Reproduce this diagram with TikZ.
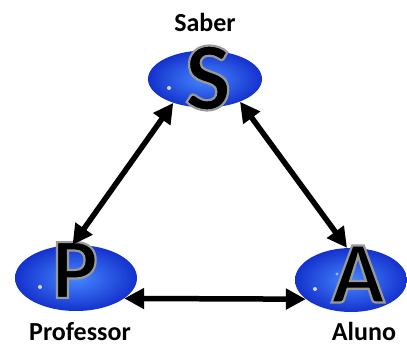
\documentclass[tikz,border=0pt]{standalone}
\usepackage{fontspec}
\setmainfont{Carlito}
\usetikzlibrary{shapes.geometric,arrows.meta}
\definecolor{bluedark}{RGB}{20,50,205}
\definecolor{bluelight}{RGB}{70,135,255}
\newcommand{\outl}[1]{\special{pdf:literal direct 2 Tr 2.2 w 0.6 0.6 0.6 RG}#1\special{pdf:literal direct 0 Tr 0 0 0 RG}}
\tikzset{
  ball/.style={ellipse, minimum width=#1, inner sep=0pt,
    shading=radial, inner color=bluelight, outer color=bluedark},
  letter/.style={font=\bfseries\fontsize{#1}{#1}\selectfont, inner sep=0pt},
  lbl/.style={font=\bfseries\fontsize{26}{26}\selectfont, inner sep=0pt, anchor=base},
  link/.style={line width=5.5pt, {Triangle[length=20pt,width=20pt]}-{Triangle[length=20pt,width=20pt]}}
}
\begin{document}
\begin{tikzpicture}[x=1pt,y=-1pt]
\useasboundingbox (0,0) rectangle (407,347);
\node[ball=114pt, minimum height=57pt] (S) at (205,79) {};
\node[ball=122pt, minimum height=66pt] (P) at (76,278) {};
\node[ball=112pt, minimum height=64pt] (A) at (351,280) {};
% highlights
\foreach \n in {S,P,A}{
  \fill[white, opacity=0.8] ([shift={(-36pt,-9pt)}]\n.center) circle (2pt);
  \fill[white, opacity=0.5] ([shift={(-14pt,6pt)}]\n.center) circle (1.6pt);
}
\node[letter=98] (Sl) at (208,78) {\outl{S}};
\node[letter=86] (Pl) at (75,270) {\outl{P}};
\node[letter=88] (Al) at (358,274) {\outl{A}};
\node[lbl] (Sname) at (205,32) {Saber};
\node[lbl] (Pname) at (80,341) {Professor};
\node[lbl] (Aname) at (364,341) {Aluno};
\draw[link] (S.217) -- (P.96);
\draw[link] (S.327) -- (A.97);
\draw[link] (P.337) -- (A.203);
\end{tikzpicture}
\end{document}
